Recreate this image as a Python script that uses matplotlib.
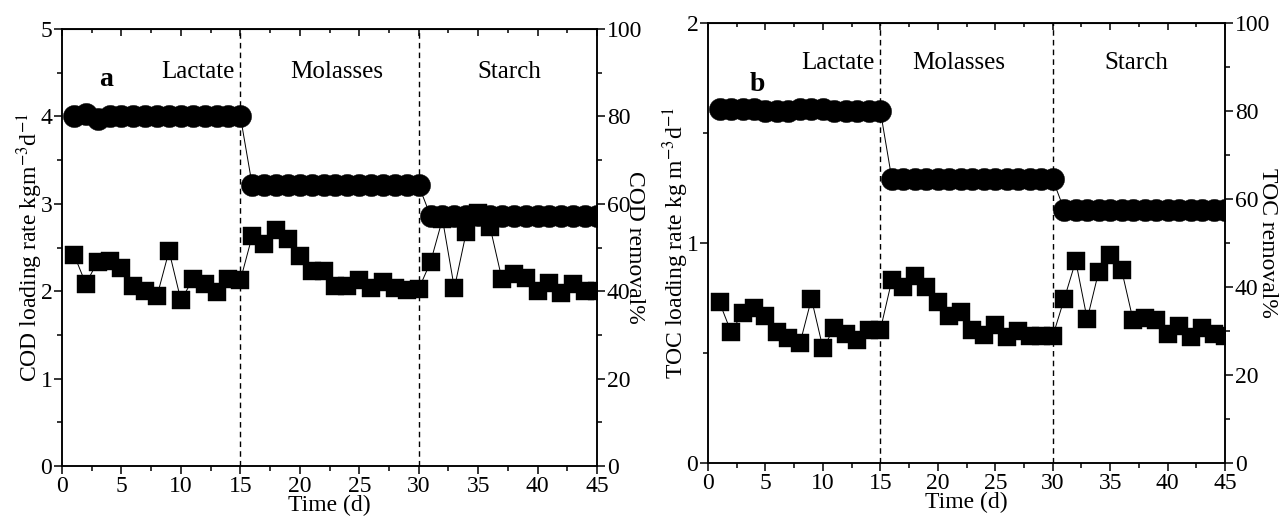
import matplotlib
matplotlib.use("Agg")
import matplotlib.pyplot as plt
from matplotlib.ticker import MultipleLocator

plt.rcParams['font.family'] = ['Liberation Serif', 'DejaVu Serif']
plt.rcParams['mathtext.fontset'] = 'stix'

days = list(range(1, 46))

cod_rate = [4.00, 4.03, 3.97, 4.00, 4.00, 4.00, 4.00, 4.00, 4.00, 4.00, 4.00, 4.00, 4.00, 4.00, 4.00,
            3.21, 3.21, 3.21, 3.21, 3.21, 3.21, 3.21, 3.21, 3.21, 3.21, 3.21, 3.21, 3.21, 3.21, 3.21,
            2.86, 2.86, 2.86, 2.86, 2.87, 2.86, 2.86, 2.86, 2.86, 2.86, 2.86, 2.86, 2.86, 2.86, 2.86]
cod_removal = [48.4, 41.7, 46.8, 47.0, 45.3, 41.3, 40.0, 39.0, 49.2, 37.9, 42.7, 41.6, 39.8, 42.7, 42.5,
               52.7, 50.9, 54.0, 51.9, 48.1, 44.7, 44.7, 41.2, 41.2, 42.5, 40.8, 42.1, 40.8, 40.2, 40.5,
               46.7, 56.5, 40.7, 53.5, 58.0, 54.7, 42.8, 43.9, 43.1, 40.1, 41.9, 39.6, 41.7, 40.0, 40.0]

toc_rate = [1.61, 1.61, 1.61, 1.61, 1.60, 1.60, 1.60, 1.61, 1.61, 1.61, 1.60, 1.60, 1.60, 1.60, 1.60,
            1.29, 1.29, 1.29, 1.29, 1.29, 1.29, 1.29, 1.29, 1.29, 1.29, 1.29, 1.29, 1.29, 1.29, 1.29,
            1.15, 1.15, 1.15, 1.15, 1.15, 1.15, 1.15, 1.15, 1.15, 1.15, 1.15, 1.15, 1.15, 1.15, 1.15]
toc_removal = [36.5, 29.8, 34.0, 35.2, 33.3, 29.8, 28.3, 27.2, 37.3, 26.1, 30.7, 29.4, 28.0, 30.3, 30.3,
               41.6, 40.0, 42.5, 39.9, 36.5, 33.5, 34.4, 30.3, 29.2, 31.4, 28.7, 30.1, 28.8, 28.8, 28.8,
               37.3, 45.9, 32.7, 43.5, 47.2, 43.8, 32.4, 33.0, 32.4, 29.4, 31.1, 28.7, 30.6, 29.3, 28.8]

phase_bounds = [15, 30]
phase_names = ['Lactate', 'Molasses', 'Starch']

fig = plt.figure(figsize=(12.82, 5.2), dpi=100)

FS = 17
LFS = 17


def make_panel(rect, rate, removal, ymax_left, ymajor, yminor, left_label, right_label,
               right_label_x, letter, letter_pos, phase_x, phase_y):
    ax = fig.add_axes(rect)
    ax2 = ax.twinx()
    ax.set_zorder(ax2.get_zorder() + 1)
    ax.patch.set_visible(False)

    ax.plot(days, rate, '-', color='black', lw=0.7, marker='o', ms=16,
            markerfacecolor='black', markeredgecolor='black', markeredgewidth=0.3, zorder=3)
    ax2.plot(days, removal, '-', color='black', lw=0.7, marker='s', ms=13.3,
             markerfacecolor='black', markeredgecolor='black', markeredgewidth=0.3, zorder=3)

    for b in phase_bounds:
        ax.axvline(b, color='black', lw=1.0, ls=(0, (4, 3)), zorder=2)

    ax.set_xlim(0, 45)
    ax.set_ylim(0, ymax_left)
    ax2.set_ylim(0, 100)

    ax.xaxis.set_major_locator(MultipleLocator(5))
    ax.xaxis.set_minor_locator(MultipleLocator(2.5))
    ax.yaxis.set_major_locator(MultipleLocator(ymajor))
    ax.yaxis.set_minor_locator(MultipleLocator(yminor))
    ax2.yaxis.set_major_locator(MultipleLocator(20))
    ax2.yaxis.set_minor_locator(MultipleLocator(10))

    ax.tick_params(axis='x', which='both', direction='out', bottom=True, top=False,
                   labelsize=FS, width=1.1, pad=1)
    ax.tick_params(axis='x', which='major', length=6)
    ax.tick_params(axis='x', which='minor', length=3.5)
    ax.tick_params(axis='y', which='both', direction='out', labelsize=FS, width=1.1, pad=1)
    ax.tick_params(axis='y', which='major', length=6)
    ax.tick_params(axis='y', which='minor', length=3.5)
    ax2.tick_params(axis='y', which='both', direction='out', labelsize=FS, width=1.1, pad=1)
    ax2.tick_params(axis='y', which='major', length=6)
    ax2.tick_params(axis='y', which='minor', length=3.5)

    # top inward ticks
    secx = ax.secondary_xaxis('top')
    secx.xaxis.set_major_locator(MultipleLocator(5))
    secx.xaxis.set_minor_locator(MultipleLocator(2.5))
    secx.tick_params(axis='x', which='both', direction='in', labeltop=False, width=1.1)
    secx.tick_params(axis='x', which='major', length=5)
    secx.tick_params(axis='x', which='minor', length=3)

    for a in (ax, ax2):
        for s in a.spines.values():
            s.set_linewidth(1.1)

    ax.set_xlabel('Time (d)', fontsize=FS, labelpad=-1)
    ax.set_ylabel(left_label, fontsize=LFS, labelpad=-3)
    ax2.set_ylabel(right_label, fontsize=LFS, rotation=270)
    ax2.yaxis.label.set_verticalalignment('center')
    ax2.yaxis.label.set_horizontalalignment('center')
    ax2.yaxis.set_label_coords(right_label_x, 0.5)

    ax.text(letter_pos[0], letter_pos[1], letter, fontsize=20, fontweight='bold',
            ha='center', va='center')
    for name, px in zip(phase_names, phase_x):
        ax.text(px, phase_y, name, fontsize=18, ha='center', va='center')
    return ax, ax2


make_panel([0.0484, 0.1038, 0.4173, 0.8404], cod_rate, cod_removal, 5, 1, 0.5,
           'COD loading rate kgm$^{-3}$d$^{-1}$', 'COD removal%', 1.07,
           'a', (3.7, 4.42), [11.4, 23.1, 37.6], 4.51)

make_panel([0.5523, 0.1096, 0.4033, 0.8462], toc_rate, toc_removal, 2, 1, 0.5,
           'TOC loading rate kg m$^{-3}$d$^{-1}$', 'TOC removal%', 1.083,
           'b', (4.3, 1.72), [11.3, 21.8, 37.3], 1.82)

fig.savefig('out.png', dpi=100)
